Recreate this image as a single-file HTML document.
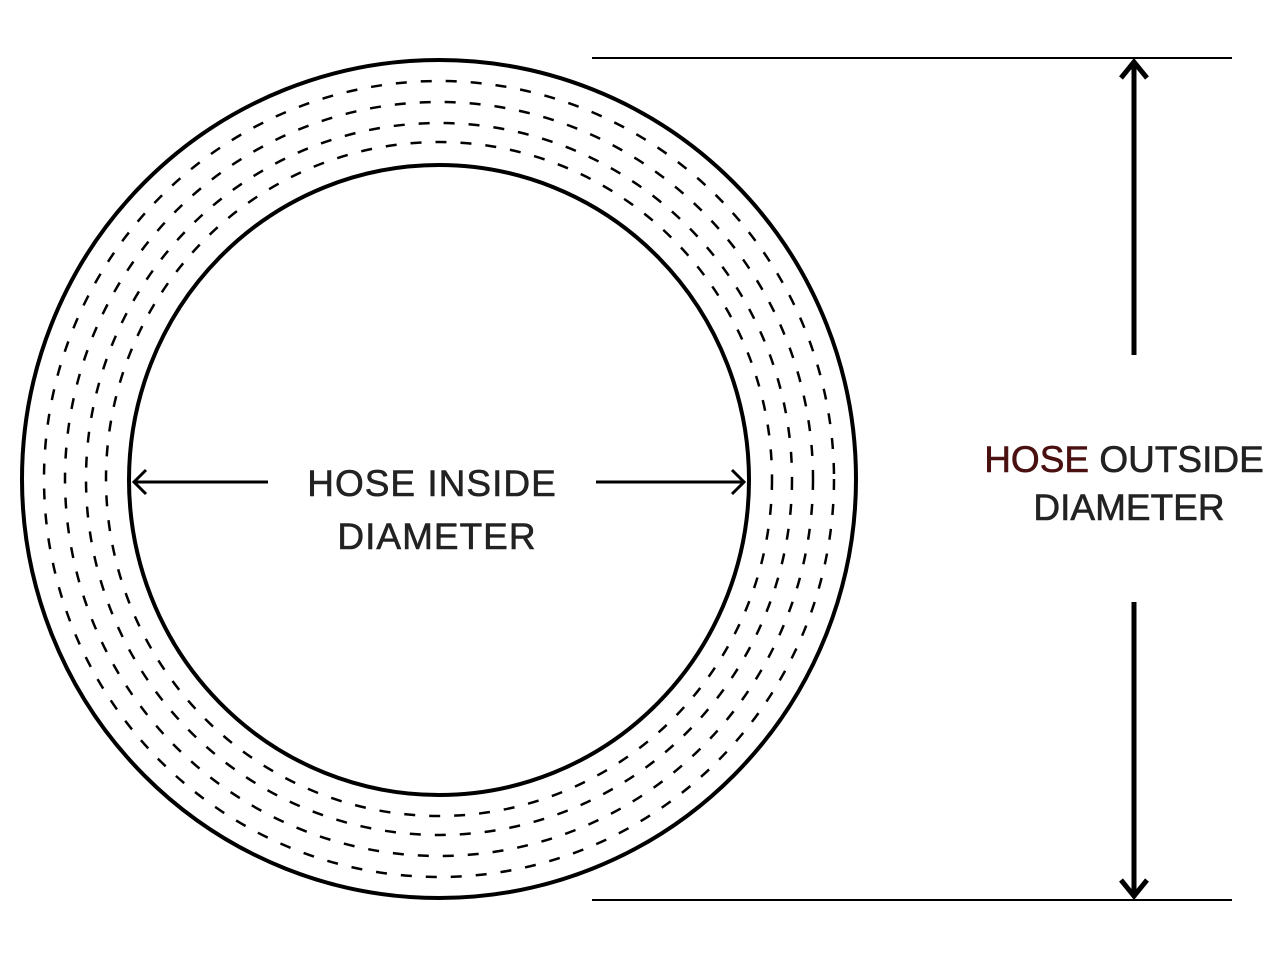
<html><body style="margin:0;background:#fff">
<svg width="1280" height="959" viewBox="0 0 1280 959" xmlns="http://www.w3.org/2000/svg">
<rect width="1280" height="959" fill="#fff"/>
<g fill="none" stroke="#000">
<ellipse cx="439" cy="479" rx="417" ry="419" stroke-width="4"/>
<ellipse cx="439" cy="480" rx="310" ry="315" stroke-width="4"/>
<g stroke-width="2.5" stroke-dasharray="11 14">
<ellipse cx="439" cy="479" rx="395" ry="398"/>
<ellipse cx="439" cy="479" rx="374" ry="377"/>
<ellipse cx="439" cy="479" rx="353" ry="356"/>
<ellipse cx="439" cy="479" rx="333" ry="337"/>
</g>
<line x1="592" y1="58" x2="1232" y2="58" stroke-width="2"/>
<line x1="592" y1="900" x2="1232" y2="900" stroke-width="2"/>
<line x1="1134" y1="62" x2="1134" y2="355" stroke-width="5"/>
<line x1="1134" y1="602" x2="1134" y2="896" stroke-width="5"/>
<polyline points="1121,78 1134,62 1147,78" stroke-width="5"/>
<polyline points="1121,880 1134,896 1147,880" stroke-width="5"/>
<line x1="134" y1="482" x2="268" y2="482" stroke-width="3"/>
<line x1="596" y1="482" x2="744" y2="482" stroke-width="3"/>
<polyline points="146,470 134,482 146,494" stroke-width="3"/>
<polyline points="732,470 744,482 732,494" stroke-width="3"/>
</g>
<g font-family="Liberation Sans, sans-serif" font-size="37" text-anchor="middle" stroke="#222" stroke-width="0.6">
<text x="432" y="496" fill="#222" letter-spacing="1">HOSE INSIDE</text>
<text x="437" y="549" fill="#222" letter-spacing="1">DIAMETER</text>
<text x="1124" y="472" fill="#222"><tspan fill="#4a1010" stroke="#4a1010">HOSE</tspan> OUTSIDE</text>
<text x="1129" y="520" fill="#222">DIAMETER</text>
</g>
</svg>
</body></html>
